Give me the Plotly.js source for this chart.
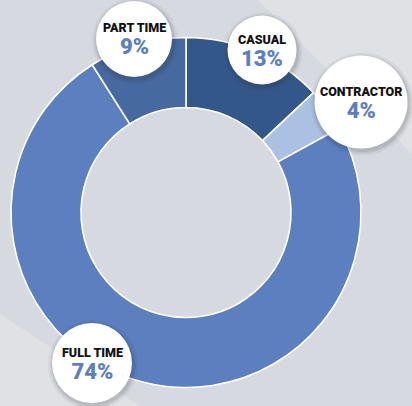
<!DOCTYPE html>
<html>
<head>
<meta charset="utf-8">
<script src="https://cdn.plot.ly/plotly-3.0.1.min.js"></script>
<style>html,body{margin:0;padding:0;background:#d6d9df;}#chart{width:412px;height:406px;}</style>
</head>
<body>
<div id="chart"></div>
<script>
const categories = ["CASUAL", "CONTRACTOR", "FULL TIME", "PART TIME"];
const values = [13, 4, 74, 9];
const colors = ["#34578a", "#abc1e4", "#5b7fbf", "#46699f"];

const W = 412, H = 406;
const px = x => x / W;
const py = y => 1 - y / H;

// label bubble placements (pixels): cx, cy, r
const bubbles = [
  {cx: 262, cy: 50, r: 34.5},
  {cx: 361, cy: 102, r: 46.5},
  {cx: 92, cy: 363, r: 40},
  {cx: 134, cy: 39, r: 38}
];

const shapes = [];
// background light diagonal bands
shapes.push({type: 'path', xref: 'paper', yref: 'paper', layer: 'below', line: {width: 0}, fillcolor: '#e0e1e4',
  path: `M ${px(258)} ${py(0)} L ${px(412)} ${py(154)} L ${px(412)} ${py(0)} Z`});
shapes.push({type: 'path', xref: 'paper', yref: 'paper', layer: 'below', line: {width: 0}, fillcolor: '#e0e1e4',
  path: `M ${px(0)} ${py(314)} L ${px(140)} ${py(406)} L ${px(0)} ${py(406)} Z`});
// bubbles with soft shadows
bubbles.forEach(b => {
  [[5, 0.05], [3, 0.07], [1.5, 0.09]].forEach(([e, a]) => {
    shapes.push({type: 'circle', xref: 'paper', yref: 'paper', layer: 'above', line: {width: 0},
      fillcolor: `rgba(30,40,60,${a})`, x0: px(b.cx - b.r - e + 1), x1: px(b.cx + b.r + e + 1), y0: py(b.cy + b.r + e + 2), y1: py(b.cy - b.r - e + 2)});
  });
  shapes.push({type: 'circle', xref: 'paper', yref: 'paper', layer: 'above', line: {width: 0},
    fillcolor: '#ffffff', x0: px(b.cx - b.r), x1: px(b.cx + b.r), y0: py(b.cy + b.r), y1: py(b.cy - b.r)});
});

const fontFam = 'Roboto, "Open Sans", sans-serif';
const annotations = categories.map((c, i) => {
  const b = bubbles[i];
  return {x: px(b.cx), y: py(b.cy + 1), xref: 'paper', yref: 'paper', showarrow: false,
    xanchor: 'center', yanchor: 'middle', align: 'center', borderpad: 0,
    text: `<span style="font-size:12.5px;color:#111111">${c}</span><br><span style="font-size:22px;color:#5b7fbf">${values[i]}%</span>`,
    font: {family: fontFam, size: 17, color: '#111111', weight: 900}};
});

const data = [{
  type: 'pie',
  labels: categories,
  values: values,
  sort: false,
  direction: 'clockwise',
  rotation: 0,
  hole: 0.6,
  textinfo: 'none',
  hoverinfo: 'label+percent',
  showlegend: false,
  marker: {colors: colors, line: {color: '#ffffff', width: 1.6}},
  domain: {x: [px(11), px(361)], y: [py(387.5), py(37.5)]}
}];

const layout = {
  width: W, height: H,
  margin: {l: 0, r: 0, t: 0, b: 0},
  paper_bgcolor: '#d6d9df',
  plot_bgcolor: '#d6d9df',
  showlegend: false,
  shapes: shapes,
  annotations: annotations
};

Plotly.newPlot('chart', data, layout, {displayModeBar: false, staticPlot: true});
</script>
</body>
</html>
